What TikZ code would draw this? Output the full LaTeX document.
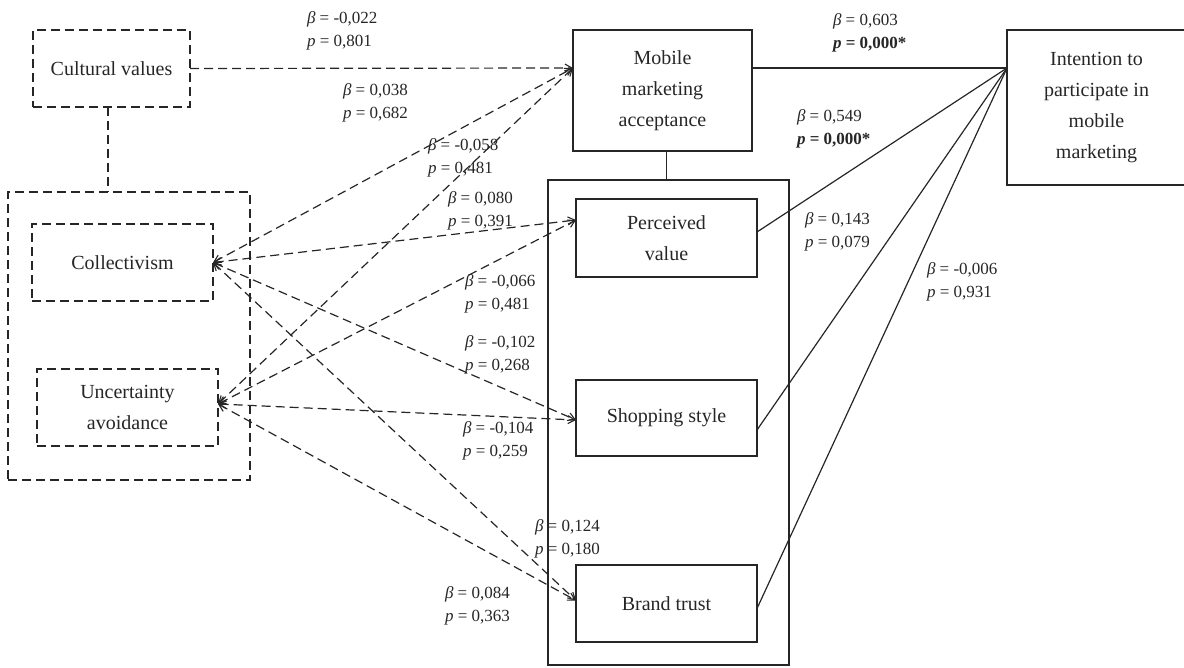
\documentclass[tikz,border=0pt]{standalone}
\usepackage{fontspec}
\setmainfont{Liberation Serif}
\usetikzlibrary{arrows.meta,calc}
\begin{document}
\begin{tikzpicture}[x=1pt,y=-1pt,
  every node/.style={inner sep=0pt, outer sep=0pt},
  boxtext/.style={font=\fontsize{20}{31}\selectfont, align=center, text=black!85},
  sbox/.style={boxtext, draw=black!85, line width=1.2pt},
  dbox/.style={boxtext, draw=black!85, line width=1.2pt, dash pattern=on 9pt off 5pt},
  lab/.style={font=\fontsize{17}{23}\selectfont, align=left, anchor=west, text=black!85},
  dline/.style={draw=black!85, line width=1.2pt, dash pattern=on 9pt off 5pt},
  sline/.style={draw=black!85, line width=1.2pt},
  mytip/.tip={Straight Barb[length=7pt,width=8pt,line width=1.1pt]}
]
\useasboundingbox (0,0) rectangle (1184,668);
% boxes
\node[dbox, minimum width=157pt, minimum height=77pt] (cv) at (111.5,68.5) {Cultural values};
\node[dbox, minimum width=242pt, minimum height=288pt] (outer) at (129,336) {};
\node[dbox, minimum width=181pt, minimum height=77pt] (col) at (122.5,262.5) {Collectivism};
\node[dbox, minimum width=181pt, minimum height=77pt] (ua) at (127.5,407.5) {Uncertainty\\avoidance};
\node[sbox, minimum width=179pt, minimum height=121pt] (mma) at (662.5,90.5) {Mobile\\marketing\\acceptance};
\node[sbox, minimum width=241pt, minimum height=485pt] (big) at (668.5,422.5) {};
\node[sbox, minimum width=181pt, minimum height=78pt] (pv) at (666.5,238) {Perceived\\value};
\node[sbox, minimum width=181pt, minimum height=76pt] (ss) at (666.5,418) {Shopping style};
\node[sbox, minimum width=181pt, minimum height=77pt] (bt) at (666.5,603.5) {Brand trust};
\node[sbox, minimum width=179pt, minimum height=155pt] (it) at (1096.5,107.5) {Intention to\\participate in\\mobile\\marketing};
% structural links
\draw[dline] ([xshift=-3.5pt]cv.south) -- ([xshift=-3.5pt]cv.south |- outer.north);
\draw[sline] (pv.north |- mma.south) -- (pv.north |- big.north);
% dashed paths
\draw[dline, -mytip] (cv.east) -- ($(mma.north west)+(0,38)$);
\foreach \s/\dy in {col/0, ua/-3.5}{
  \draw[dline, mytip-mytip] ($(\s.east)+(0,\dy)$) -- ($(mma.north west)+(0,38)$);
  \draw[dline, mytip-mytip] ($(\s.east)+(0,\dy)$) -- ($(pv.north west)+(0,21)$);
  \draw[dline, mytip-mytip] ($(\s.east)+(0,\dy)$) -- ($(ss.west)+(0,2)$);
  \draw[dline, mytip-mytip] ($(\s.east)+(0,\dy)$) -- ($(bt.west)+(0,-3)$);
}
% solid paths
\draw[sline] ($(mma.north east)+(0,38)$) -- ($(it.north west)+(0,38)$);
\draw[sline] ($(pv.east)+(0,-6)$) -- ($(it.north west)+(0,38)$);
\draw[sline] ($(ss.east)+(0,12)$) -- ($(it.north west)+(0,38)$);
\draw[sline] ($(bt.east)+(0,5)$) -- ($(it.north west)+(0,38)$);
% labels
\node[lab] (l1) at (307,31) {\textit{β} = -0,022\\\textit{p} = 0,801};
\node[lab] (l2) at (343,102.5) {\textit{β} = 0,038\\\textit{p} = 0,682};
\node[lab] (l3) at (428,157.5) {\textit{β} = -0,058\\\textit{p} = 0,481};
\node[lab] (l4) at (448,210.5) {\textit{β} = 0,080\\\textit{p} = 0,391};
\node[lab] (l5) at (465,293.5) {\textit{β} = -0,066\\\textit{p} = 0,481};
\node[lab] (l6) at (465,354.5) {\textit{β} = -0,102\\\textit{p} = 0,268};
\node[lab] (l7) at (463,441) {\textit{β} = -0,104\\\textit{p} = 0,259};
\node[lab] (l8) at (535,538.5) {\textit{β} = 0,124\\\textit{p} = 0,180};
\node[lab] (l9) at (445,605.5) {\textit{β} = 0,084\\\textit{p} = 0,363};
\node[lab] (l10) at (833,33) {\textit{β} = 0,603\\\textbf{\textit{p} = 0,000*}};
\node[lab] (l11) at (797,128.5) {\textit{β} = 0,549\\\textbf{\textit{p} = 0,000*}};
\node[lab] (l12) at (805,231.5) {\textit{β} = 0,143\\\textit{p} = 0,079};
\node[lab] (l13) at (927,281.5) {\textit{β} = -0,006\\\textit{p} = 0,931};
\end{tikzpicture}
\end{document}
